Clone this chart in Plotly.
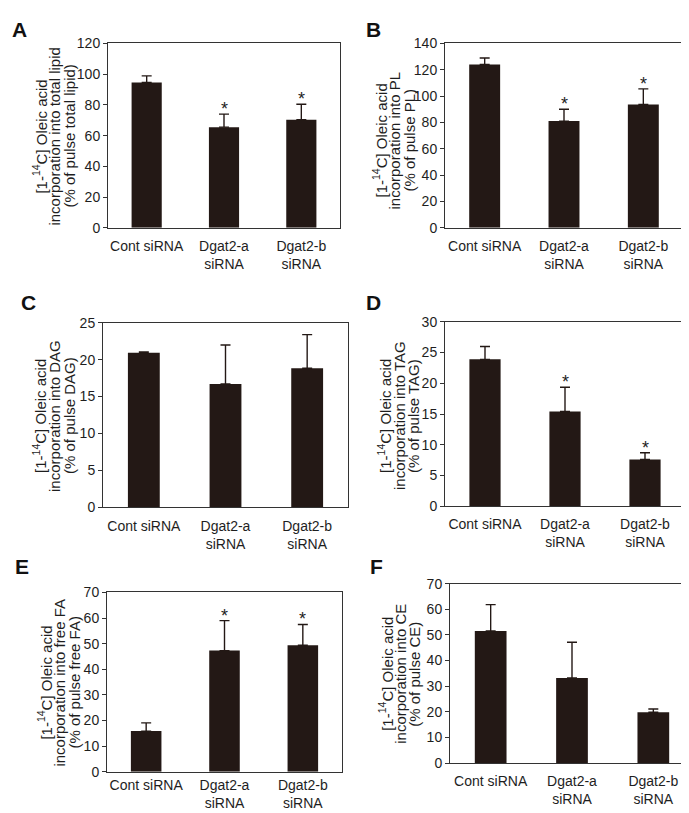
import plotly.graph_objects as go

W, H = 689, 813

categories = ["Cont siRNA", "Dgat2-a<br>siRNA", "Dgat2-b<br>siRNA"]

# Panel A: total lipid
a_values = [94.6, 65.5, 70.4]
a_errors = [4.3, 8.5, 10.0]
a_signif = [False, True, True]
# Panel B: PL
b_values = [124.0, 81.0, 93.7]
b_errors = [5.0, 9.0, 11.8]
b_signif = [False, True, True]
# Panel C: DAG
c_values = [20.95, 16.7, 18.85]
c_errors = [0.1, 5.3, 4.55]
c_signif = [False, False, False]
# Panel D: TAG
d_values = [23.9, 15.4, 7.6]
d_errors = [2.1, 3.95, 1.1]
d_signif = [False, True, True]
# Panel E: free FA
e_values = [15.9, 47.3, 49.4]
e_errors = [3.2, 11.7, 8.1]
e_signif = [False, True, True]
# Panel F: CE
f_values = [51.5, 33.2, 19.8]
f_errors = [10.3, 13.9, 1.3]
f_signif = [False, False, False]

letters = ["A", "B", "C", "D", "E", "F"]
title_line1 = "[1-<sup>14</sup>C] Oleic acid"
title_line2 = ["incorporation into total lipid", "incorporation into PL",
               "incorporation into DAG", "incorporation into TAG",
               "incorporation into free FA", "incorporation into CE"]
title_line3 = ["(% of pulse total lipid)", "(% of pulse PL)",
               "(% of pulse DAG)", "(% of pulse TAG)",
               "(% of pulse free FA)", "(% of pulse CE)"]
y_max = [120, 140, 25, 30, 70, 70]
y_step = [20, 20, 5, 5, 10, 10]

panel_values = [a_values, b_values, c_values, d_values, e_values, f_values]
panel_errors = [a_errors, b_errors, c_errors, d_errors, e_errors, f_errors]
panel_signif = [a_signif, b_signif, c_signif, d_signif, e_signif, f_signif]

# layout geometry in pixels: (left, right, top, bottom)
frames = [(100, 332, 28, 216), (437, 675, 28, 216),
          (95, 340, 313, 501), (437, 677, 312, 500),
          (99, 334, 588, 771), (442, 686, 579, 762)]
title_x = [(32, 47, 62), (372, 387, 402), (32, 47, 62),
           (377, 392, 406), (37, 52, 67), (378, 393, 407)]
title_cy = [123, 127, 408, 408, 680, 671]
label_gap = [5, 5, 6, 5, 0, 5]
letter_pos = [(4, 5), (358, 5), (13, 283), (358, 283), (7, 553), (362, 553)]

INK = "#231815"
TXT = "#1e1e1e"
FONT = "Liberation Sans, Arial, sans-serif"

def px(x):
    return x / W

def py(y):
    return 1 - y / H

fig = go.Figure()
annotations = []

for i in range(6):
    n = i + 1
    xa = "x" if n == 1 else f"x{n}"
    ya = "y" if n == 1 else f"y{n}"
    vals = panel_values[i]
    errs = panel_errors[i]
    fig.add_trace(go.Bar(
        x=categories, y=vals, xaxis=xa, yaxis=ya, width=0.39,
        marker=dict(color=INK, line=dict(width=0)),
        error_y=dict(type="data", symmetric=False, array=errs,
                     arrayminus=[0] * len(errs), color=INK,
                     thickness=1.4, width=5),
        showlegend=False, hoverinfo="skip",
    ))
    l, r, t, b = frames[i]
    gap = label_gap[i]
    layout_x = dict(domain=[px(l), px(r)], anchor=ya, showline=True, mirror=True,
                    linecolor="#333", linewidth=1,
                    ticks="outside" if gap else "", ticklen=max(gap, 1),
                    tickcolor="rgba(0,0,0,0)", showgrid=False,
                    tickfont=dict(family=FONT, size=14, color=TXT),
                    range=[-0.5, 2.5], type="category", fixedrange=True)
    layout_y = dict(domain=[py(b), py(t)], anchor=xa, showline=True, mirror=True,
                    linecolor="#333", linewidth=1, ticks="outside", ticklen=4,
                    tickcolor="#333", showgrid=False, zeroline=False,
                    range=[0, y_max[i]], dtick=y_step[i], tick0=0,
                    tickfont=dict(family=FONT, size=14, color=TXT), fixedrange=True)
    fig.update_layout(**{("xaxis" if n == 1 else f"xaxis{n}"): layout_x,
                         ("yaxis" if n == 1 else f"yaxis{n}"): layout_y})
    # significance asterisks
    for j, s in enumerate(panel_signif[i]):
        if s:
            annotations.append(dict(x=categories[j], y=vals[j] + errs[j],
                                    xref=xa, yref=ya, text="*", showarrow=False,
                                    yanchor="bottom", yshift=-7,
                                    font=dict(family=FONT, size=18, color=TXT)))
    # y-axis title lines
    cy = title_cy[i]
    for k, txt in enumerate([title_line1, title_line2[i], title_line3[i]]):
        annotations.append(dict(x=px(title_x[i][k]), y=py(cy), xref="paper", yref="paper",
                                text=txt, textangle=-90, showarrow=False,
                                xanchor="center", yanchor="middle",
                                font=dict(family=FONT, size=15, color=TXT)))
    # panel letter
    lx, ly = letter_pos[i]
    annotations.append(dict(x=px(lx - 2), y=py(ly - 5), xref="paper", yref="paper",
                            text=f"<b>{letters[i]}</b>", showarrow=False,
                            xanchor="left", yanchor="top",
                            font=dict(family=FONT, size=21, color="#111")))

fig.update_layout(width=W, height=H, margin=dict(l=0, r=0, t=0, b=0),
                  paper_bgcolor="white", plot_bgcolor="white",
                  annotations=annotations, bargap=0.6)

fig.write_html("out.html")
